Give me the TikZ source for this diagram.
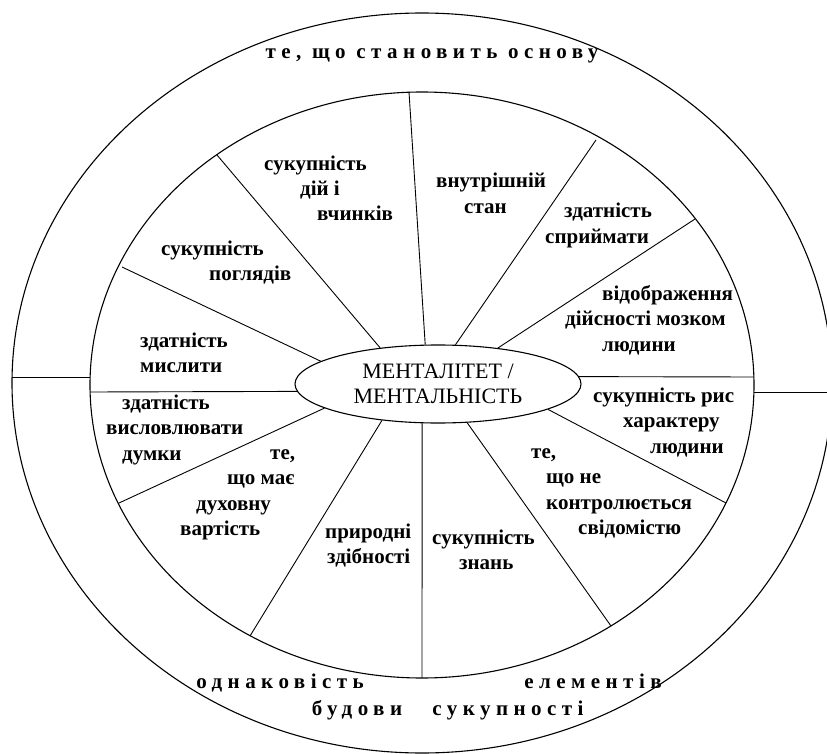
\documentclass[tikz,border=0pt]{standalone}
\usepackage{fontspec}
\setmainfont{Liberation Serif}
\usetikzlibrary{shapes.geometric}

\begin{document}
\begin{tikzpicture}[x=1pt,y=-1pt,
	lbl/.style={font=\bfseries\fontsize{21}{25.5}\selectfont,align=left,anchor=base west,inner sep=0pt},
	ring/.style={font=\bfseries\fontsize{21}{24}\selectfont\addfontfeature{LetterSpace=26},anchor=base,inner sep=0pt},
	spoke/.style={line width=0.9pt}]
			\useasboundingbox (0,0) rectangle (827,754);
			% cercles
			\draw[line width=1.1pt] (422,383) ellipse [x radius=410, y radius=370];
			\draw[line width=1.1pt] (422,385) ellipse [x radius=332, y radius=293];
			\node[draw,ellipse,minimum width=286pt,minimum height=78pt,inner sep=0pt,line width=1.1pt,align=center,
				font=\fontsize{22}{25}\selectfont] (M) at (438,384) {МЕНТАЛІТЕТ /\\МЕНТАЛЬНІСТЬ};
			
			% bouts des rayons
			\coordinate (R1) at (409,92);
			\coordinate (R2) at (217,155);
			\coordinate (R3) at (122,267);
			\coordinate (R4) at (90,392);
			\coordinate (R5) at (119,503);
			\coordinate (R6) at (250,636);
			\coordinate (R7) at (422,678);
			\coordinate (R8) at (611,626);
			\coordinate (R9) at (726,503);
			\coordinate (R10) at (754,377);
			\coordinate (R11) at (695,219);
			\coordinate (R12) at (596,140);
			\foreach \a/\r in {108/R1,148/R2,169/R3,183/R4,192/R5,213/R6,248/R7,307/R8,347/R9,3/R10,31/R11,66/R12}
				\draw[spoke] (M.\a) -- (\r);
			
			% anneau
			\coordinate (Ga) at (12,377);
			\coordinate (Gb) at (90,377);
			\coordinate (Da) at (754,392);
			\coordinate (Db) at (832,392);
			\draw[spoke] (Ga) -- (Gb) (Da) -- (Db);
			\node[ring] (haut) at (432,59) {те, що становить основу};
			\node[ring] (bas1) at (280,688) {однаковість};
			\node[ring] (bas2) at (593,688) {елементів};
			\node[ring] (bas3) at (357,715) {будови};
			\node[ring] (bas4) at (508,715) {сукупності};
			
			% secteurs (y = ligne de base de la derniere ligne)
			\node[lbl] (s1) at (264,221) {сукупність\\\hspace*{36pt}дій і\\\hspace*{53pt}вчинків};
			\node[lbl] (s2) at (436,213.5) {внутрішній\\\hspace*{28pt}стан};
			\node[lbl] (s3) at (545,243.5) {\hspace*{19pt}здатність\\сприймати};
			\node[lbl] (s4) at (161,280.5) {сукупність\\\hspace*{48pt}поглядів};
			\node[lbl] (s5) at (565,351) {\hspace*{37pt}відображення\\дійсності мозком\\\hspace*{37pt}людини};
			\node[lbl] (s6) at (140,372.5) {здатність\\мислити};
			\node[lbl] (s7) at (593,453) {сукупність рис\\\hspace*{30pt}характеру\\\hspace*{57pt}людини};
			\node[lbl] (s8) at (106,460) {\hspace*{16pt}здатність\\висловлювати\\\hspace*{16pt}думки};
			\node[lbl] (s9) at (180,535.5) {\hspace*{90pt}те,\\\hspace*{47pt}що має\\\hspace*{16pt}духовну\\вартість};
			\node[lbl] (s10) at (325,563.5) {природні\\\hspace*{2pt}здібності};
			\node[lbl] (s11) at (432,569.5) {сукупність\\\hspace*{27pt}знань};
			\node[lbl] (s12) at (531,534.5) {те,\\\hspace*{15pt}що не\\\hspace*{15pt}контролюється\\\hspace*{47pt}свідомістю};
\end{tikzpicture}
\end{document}
